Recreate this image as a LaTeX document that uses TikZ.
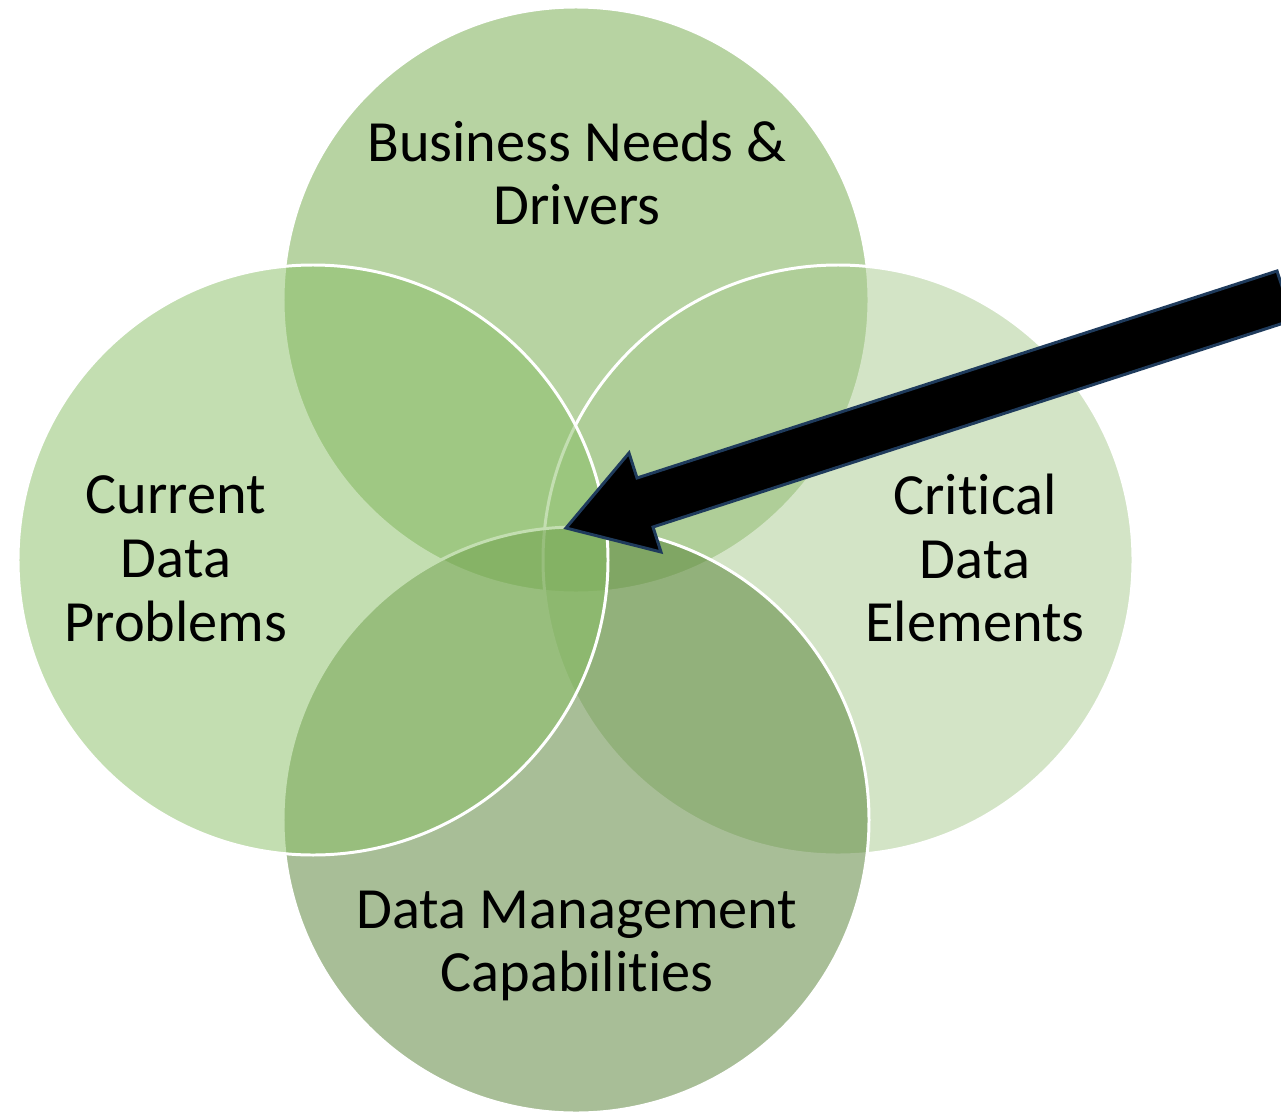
\documentclass[tikz,border=0pt]{standalone}
\usepackage{fontspec}
\setmainfont{Carlito}[Ligatures=NoCommon]
\usepackage{xcolor}
\usetikzlibrary{positioning}

\definecolor{topgreen}{RGB}{113,169,71}
\definecolor{rgtgreen}{RGB}{169,203,143}
\definecolor{botgreen}{RGB}{83,127,49}
\definecolor{lftgreen}{RGB}{137,191,101}
\definecolor{arrowline}{RGB}{31,59,92}

\begin{document}
\begin{tikzpicture}[
      x=0.02cm, y=-0.02cm,
      venn/.style={circle, draw=white, line width=1.7pt, fill opacity=0.5, draw opacity=1, inner sep=0pt},
      lbl/.style={align=center, text=black, inner sep=0pt, font=\fontsize{33.2}{36.3}\selectfont},
      bigarrow/.style={fill=black, draw=arrowline, line width=1.7pt, line join=miter}
    ]
    \fill[white] (0,0) rectangle (1281,1115);
    \useasboundingbox (0,0) rectangle (1281,1115);
    % circles, back to front
    \foreach \n/\x/\y/\r/\c in {
      needs/576/300/293/topgreen,
      crit/838/560/295/rgtgreen,
      mgmt/576/820/293/botgreen,
      probs/313/560/295/lftgreen} {
      \node[venn, fill=\c, minimum size=2*\r*0.02cm] (\n) at (\x,\y) {};
    }
    \node[lbl] (needsl) at (577,173) {Business Needs \&\\Drivers};
    \node[lbl] (probsl) at (176,559) {Current\\Data\\Problems};
    \node[lbl] (critl) at (975,558) {Critical\\Data\\Elements};
    \node[lbl] (mgmtl) at (577,946) {Data Management\\Capabilities};
    % block arrow into the middle
    \coordinate (tip) at (566,528);
    \coordinate (barbup) at (629,453);
    \coordinate (neckup) at (637,478);
    \coordinate (tailup) at (1277,271);
    \coordinate (taildn) at (1293,320);
    \coordinate (neckdn) at (653,527);
    \coordinate (barbdn) at (661,552);
    \draw[bigarrow] (tip) -- (barbup) -- (neckup) -- (tailup) -- (taildn) -- (neckdn) -- (barbdn) -- cycle;
  \end{tikzpicture}
\end{document}
